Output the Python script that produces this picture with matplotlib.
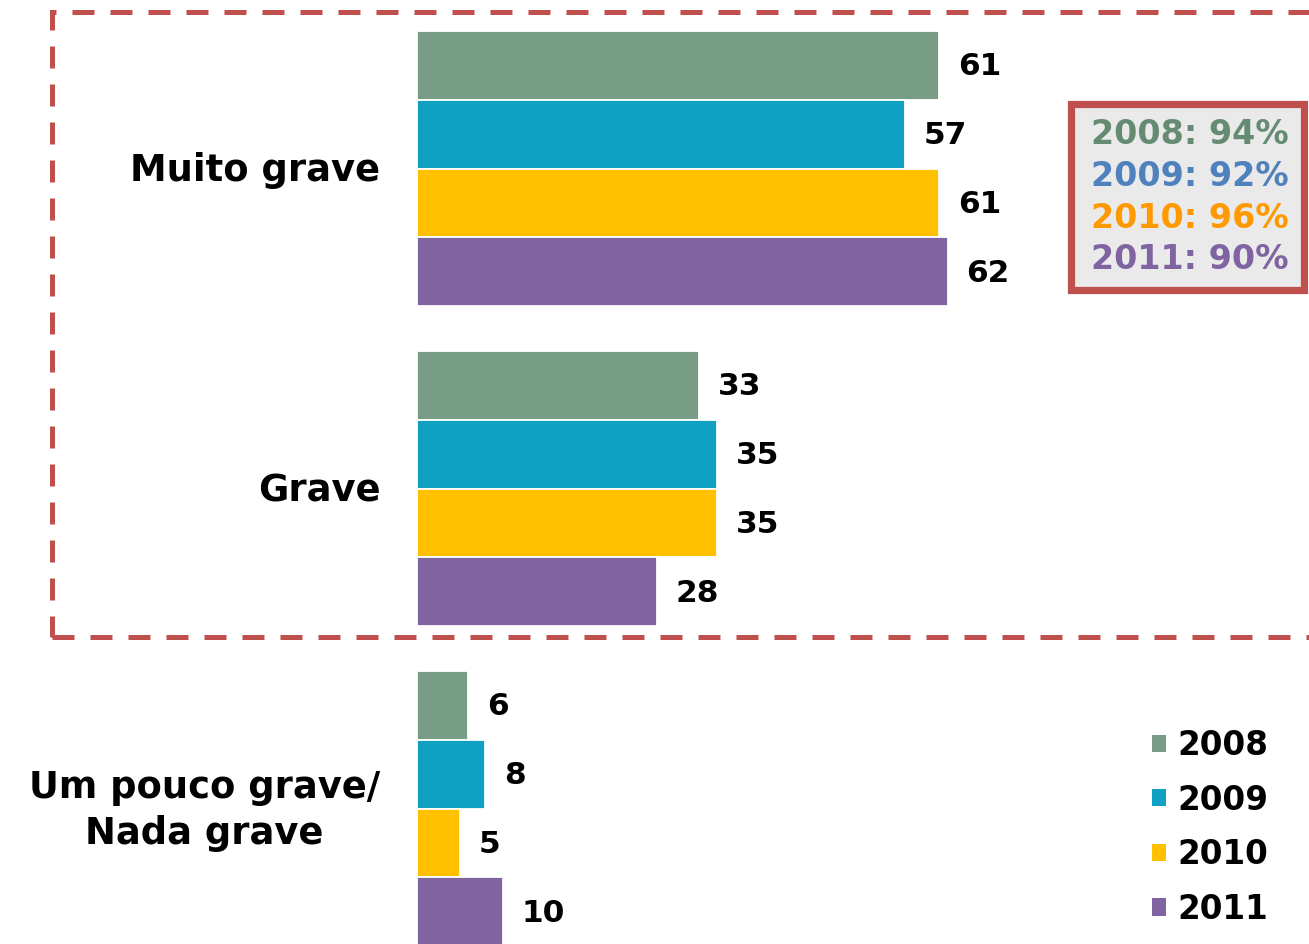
import matplotlib
matplotlib.use('Agg')
import matplotlib.pyplot as plt
from matplotlib.patches import Rectangle, Patch

plt.rcParams['font.family'] = 'DejaVu Sans'
plt.rcParams['font.weight'] = 'bold'

# data
categories = ['Muito grave', 'Grave', 'Um pouco grave/\nNada grave']
years = ['2008', '2009', '2010', '2011']
values_2008 = [61, 33, 6]
values_2009 = [57, 35, 8]
values_2010 = [61, 35, 5]
values_2011 = [62, 28, 10]
totals = ['2008: 94%', '2009: 92%', '2010: 96%', '2011: 90%']

bar_colors = ['#789D87', '#10A0C3', '#FFC000', '#8064A2']
total_colors = ['#658B73', '#4F81BD', '#FF9900', '#8064A2']

W, H = 1309, 944
fig = plt.figure(figsize=(W / 100, H / 100), dpi=100)
ax = fig.add_axes([417 / W, 0, 1 - 417 / W, 1])

px_unit = 68.75          # bar pitch in pixels
group_step = 320 / px_unit
first = (31 + px_unit / 2) / px_unit

series = [values_2008, values_2009, values_2010, values_2011]
for j, vals in enumerate(series):
    ys = [first + i * group_step + j for i in range(len(categories))]
    ax.barh(ys, vals, height=1.0, color=bar_colors[j], edgecolor='white',
            linewidth=1.3, label=years[j])
    for y, v in zip(ys, vals):
        ax.text(v + 2.2, y + 0.02, str(v), va='center', ha='left', fontsize=22.5,
                fontweight='bold', color='black')

for i, cat in enumerate(categories):
    yc = first + i * group_step + 1.53
    ax.text(-4.3, yc, cat, ha='right', va='center', multialignment='center',
            fontsize=26.6, fontweight='bold', linespacing=1.3, clip_on=False)

ax.set_xlim(0, (W - 417) / 8.56)
ax.set_ylim(H / px_unit, 0)
ax.axis('off')

# dashed highlight box
box = Rectangle((52, H - 637), 1400, 637 - 12, transform=None, fill=False,
                edgecolor='#C0504D', linewidth=3.6, linestyle=(0, (4.4, 3.2)),
                clip_on=False)
fig.patches.append(box)

# totals box
tbox = Rectangle((1071, H - 290), 233, 186, transform=None, facecolor='#EAEAEA',
                 edgecolor='#C0504D', linewidth=5.2, clip_on=False)
fig.patches.append(tbox)
for k, (t, c) in enumerate(zip(totals, total_colors)):
    fig.text(1190 / W, 1 - (134 + k * 42) / H, t, ha='center', va='center',
             fontsize=24, fontweight='bold', color=c)

# legend
handles = [Patch(facecolor=c, edgecolor='none') for c in bar_colors]
fig.legend(handles, years, loc='upper left',
           bbox_to_anchor=(1152 / W, 1 - 729 / H), frameon=False,
           handlelength=0.43, handleheight=0.43,
           handletextpad=0.34, labelspacing=0.66, borderpad=0, borderaxespad=0,
           prop={'weight': 'bold', 'size': 23.5})

plt.savefig('out.png', dpi=100)
